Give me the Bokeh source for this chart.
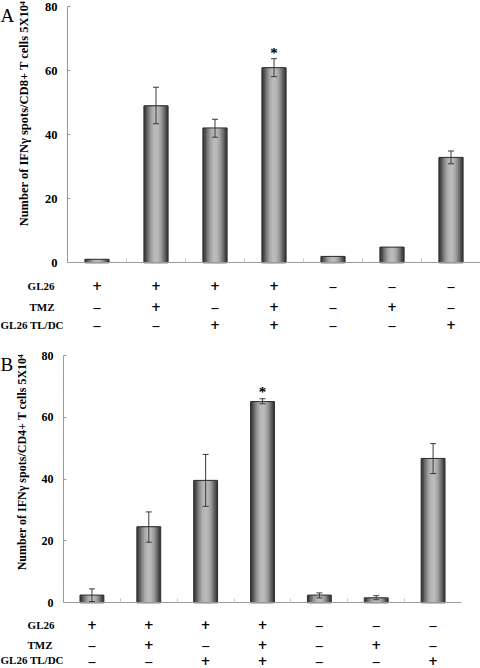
import numpy as np
from bokeh.plotting import figure
from bokeh.models import (ColumnDataSource, Range1d, LinearAxis, FixedTicker,
                          Whisker, TeeHead)
from bokeh.layouts import column
from bokeh.core.properties import value
from bokeh.embed import file_html
from bokeh.resources import INLINE

# ---------------- data ----------------
groups = [1, 2, 3, 4, 5, 6, 7]
row_names = ["GL26", "TMZ", "GL26 TL/DC"]
gl26_row = ["+", "+", "+", "+", "\u2013", "\u2013", "\u2013"]
tmz_row = ["\u2013", "+", "\u2013", "+", "\u2013", "+", "\u2013"]
tldc_row = ["\u2013", "\u2013", "+", "+", "\u2013", "\u2013", "+"]
y_ticks = [0, 20, 40, 60, 80]

cd8_mean = [1.1, 49.0, 42.1, 60.9, 2.0, 4.9, 32.9]
cd8_err_lo = [None, 43.4, 39.2, 58.1, None, None, 30.9]
cd8_err_hi = [None, 54.8, 44.8, 63.7, None, None, 34.9]

cd4_mean = [2.5, 24.6, 39.6, 65.1, 2.5, 1.6, 46.7]
cd4_err_lo = [0.4, 19.6, 31.2, 64.4, 1.6, 1.0, 41.8]
cd4_err_hi = [4.5, 29.4, 48.0, 66.0, 3.2, 2.3, 51.5]

significant = [False, False, False, True, False, False, False]

label_A = "Number of IFN\u03b3 spots/CD8+ T cells 5X10\u2074"
label_B = "Number of IFN\u03b3 spots/CD4+ T cells 5X10\u2074"

FONT = "Liberation Serif"
SERIF = value(FONT)
W = 480

# nested shading layers: (fraction of bar width, grey level)
layers = [(1.00, 58), (0.88, 80), (0.76, 104), (0.64, 128), (0.52, 150),
          (0.40, 166), (0.28, 178), (0.16, 186)]


def gray(g):
    return "#%02x%02x%02x" % (g, g, g)


def make_panel(letter, ylabel, mean, lo, hi, geo):
    H = geo["height"]
    ax_px, upx = geo["axis_px"], geo["unit_px"]
    y0, y80 = geo["y0_px"], geo["y80_px"]
    ypx = (y0 - y80) / 80.0

    def X(cx):
        return 0.5 + (cx - ax_px) / upx

    def Y(cy):
        return (y0 - cy) / ypx

    p = figure(width=W, height=H, x_range=Range1d(X(0), X(W)),
               y_range=Range1d(Y(H), Y(0)), x_axis_type=None, y_axis_type=None,
               toolbar_location=None, output_backend="svg",
               min_border=0, min_border_left=0, min_border_right=0,
               min_border_top=0, min_border_bottom=0)
    p.outline_line_color = None
    p.background_fill_color = "white"

    x_end = X(geo["axis_end_px"])
    # y axis
    ya = LinearAxis(fixed_location=0.5, bounds=(0, 80), ticker=FixedTicker(ticks=y_ticks))
    ya.axis_line_color = "#9a9a9a"
    ya.major_tick_line_color = "#9a9a9a"
    ya.major_tick_in = 3
    ya.major_tick_out = 0
    ya.minor_tick_line_color = None
    ya.major_label_standoff = geo["tick_standoff"]
    ya.major_label_text_font = FONT
    ya.major_label_text_font_style = "bold"
    ya.major_label_text_font_size = geo["tick_font"]
    ya.major_label_text_color = "black"
    p.add_layout(ya, "left")

    # x axis at y = 0 with small separators between groups
    xa = LinearAxis(fixed_location=0, bounds=(0.5, x_end),
                    ticker=FixedTicker(ticks=[], minor_ticks=[g + 0.5 for g in groups[:-1]]))
    xa.axis_line_color = "#9a9a9a"
    xa.major_tick_line_color = None
    xa.minor_tick_line_color = "#c8c8c8"
    xa.minor_tick_in = 4
    xa.minor_tick_out = 0
    p.add_layout(xa, "below")

    bw = geo["bar_w"]
    src = ColumnDataSource(dict(x=groups, top=mean))
    for frac, g in layers:
        p.vbar(x="x", top="top", bottom=0, width=bw * frac, source=src,
               fill_color=gray(g), line_color=None)
    p.vbar(x="x", top="top", bottom=0, width=bw, source=src,
           fill_color=None, line_color="#2e2e2e", line_width=1)

    idx = [i for i in range(len(groups)) if lo[i] is not None]
    esrc = ColumnDataSource(dict(x=[groups[i] for i in idx],
                                 lo=[lo[i] for i in idx],
                                 hi=[hi[i] for i in idx]))
    wk = Whisker(source=esrc, base="x", lower="lo", upper="hi", level="overlay",
                 line_color="#3a3a3a", line_width=1,
                 upper_head=TeeHead(size=6, line_color="#3a3a3a", line_width=1),
                 lower_head=TeeHead(size=6, line_color="#3a3a3a", line_width=1))
    p.add_layout(wk)

    # significance star
    sx = [groups[i] for i in range(len(groups)) if significant[i]]
    sy = [hi[i] + geo["star_gap_px"] / ypx for i in range(len(groups)) if significant[i]]
    p.text(x=sx, y=sy, text=["*"] * len(sx), text_font=SERIF, text_font_style="bold",
           text_font_size="15px", text_align="center", text_baseline="middle",
           text_color="black")

    # condition rows
    for r, row in enumerate([gl26_row, tmz_row, tldc_row]):
        yy = Y(geo["rows_px"][r])
        plus_x = [groups[i] for i in range(len(groups)) if row[i] == "+"]
        minus_x = [groups[i] for i in range(len(groups)) if row[i] != "+"]
        p.text(x=plus_x, y=[yy] * len(plus_x), text=["+"] * len(plus_x),
               text_font=value("DejaVu Sans"), text_font_style="bold",
               text_font_size="12px", text_align="center",
               text_baseline="middle", text_color="black")
        p.text(x=minus_x, y=[yy - 1.0 / ypx] * len(minus_x), text=["\u2013"] * len(minus_x),
               text_font=SERIF, text_font_style="bold",
               text_font_size="14px", text_align="center",
               text_baseline="middle", text_color="black")
        p.text(x=[X(geo["row_lab_px"][r])], y=[yy], text=[row_names[r]],
               text_font=SERIF, text_font_style="bold", text_font_size="11px",
               text_align=geo["row_lab_align"][r], text_baseline="middle",
               text_color="black")

    # y axis title
    p.text(x=[X(geo["ylabel_px"][0])], y=[Y(geo["ylabel_px"][1])], text=[ylabel],
           angle=np.pi / 2, text_font=SERIF, text_font_style="bold",
           text_font_size=geo["ylabel_font"], text_align="center",
           text_baseline="middle", text_color="black")

    # panel letter
    p.text(x=[X(0)], y=[Y(geo["letter_base_px"])], text=[letter], text_font=SERIF,
           text_font_size=geo["letter_font"], text_align="left",
           text_baseline="alphabetic", text_color="black")
    return p


geo_A = dict(height=340, axis_px=67, unit_px=59.0, axis_end_px=480,
             y0_px=262.3, y80_px=6,
             rows_px=[285, 306, 324], row_lab_px=[54, 54, 0],
             row_lab_align=["right", "right", "left"], ylabel_px=(23, 113),
             letter_base_px=14.5, letter_font="19px", tick_standoff=10,
             tick_font="12.5px", bar_w=0.41, star_gap_px=5.7, ylabel_font="12.5px")
geo_B = dict(height=328, axis_px=63, unit_px=56.86, axis_end_px=461,
             y0_px=262.3, y80_px=15,
             rows_px=[284, 304, 319.5], row_lab_px=[54, 52, 0],
             row_lab_align=["right", "right", "left"], ylabel_px=(21, 121.5),
             letter_base_px=23.5, letter_font="19px", tick_standoff=10,
             tick_font="12px", bar_w=0.42, star_gap_px=7.0, ylabel_font="12px")

pA = make_panel("A", label_A, cd8_mean, cd8_err_lo, cd8_err_hi, geo_A)
pB = make_panel("B", label_B, cd4_mean, cd4_err_lo, cd4_err_hi, geo_B)

layout = column(pA, pB, spacing=0)
open("out.html", "w").write(file_html(layout, INLINE))
